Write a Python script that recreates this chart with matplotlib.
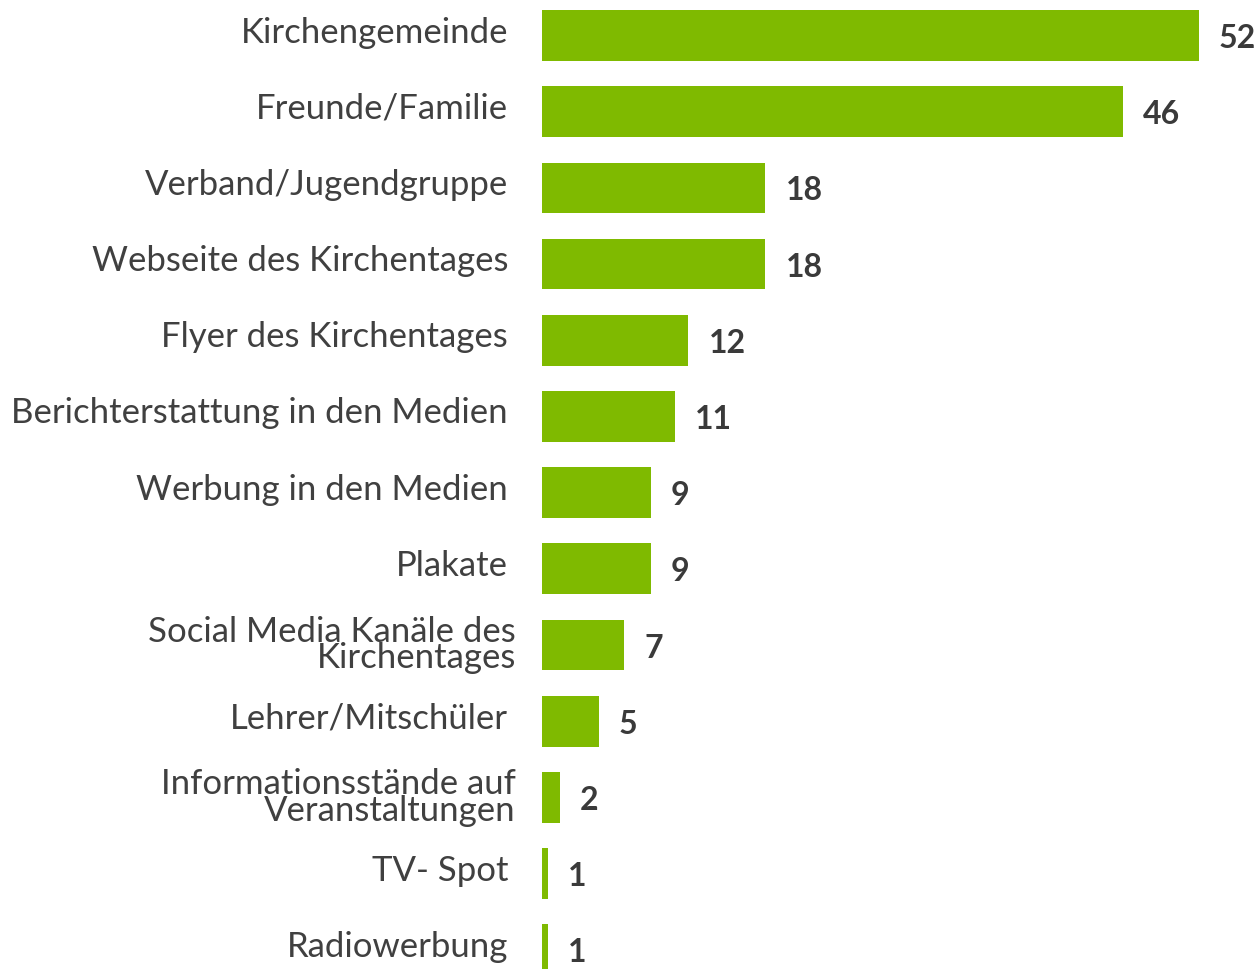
import matplotlib
matplotlib.use("Agg")
import matplotlib.pyplot as plt

categories = [
    "Kirchengemeinde", "Freunde/Familie", "Verband/Jugendgruppe",
    "Webseite des Kirchentages", "Flyer des Kirchentages",
    "Berichterstattung in den Medien", "Werbung in den Medien", "Plakate",
    "Social Media Kanäle des\nKirchentages", "Lehrer/Mitschüler",
    "Informationsstände auf\nVeranstaltungen", "TV- Spot", "Radiowerbung",
]
values = [52, 46, 17.7, 17.7, 11.6, 10.5, 8.6, 8.6, 6.5, 4.5, 1.4, 0.45, 0.45]
value_labels = ["52", "46", "18", "18", "12", "11", "9", "9", "7", "5", "2", "1", "1"]

W, H = 1260, 970
fig = plt.figure(figsize=(W / 100, H / 100), dpi=100)
ax_left = 542 / W
ax_width = 707 / W
ax = fig.add_axes([ax_left, 0, ax_width, 1])

ys = list(range(len(categories)))
ax.barh(ys, values, height=0.665, color="#7FBA00", edgecolor="none")
ax.set_xlim(0, 56)
ax.set_ylim(12.253, -0.48)
ax.axis("off")

font = "Lato"
for y, cat, v, lab in zip(ys, categories, values, value_labels):
    if "\n" in cat:
        ax.annotate(cat, xy=(0, y), xycoords=("axes fraction", "data"),
                    xytext=(-26, 1), textcoords="offset pixels",
                    ha="right", va="center", fontsize=25, family=font,
                    color="#404040", linespacing=0.78, annotation_clip=False)
    else:
        ax.annotate(cat, xy=(0, y), xycoords=("axes fraction", "data"),
                    xytext=(-34, 4), textcoords="offset pixels",
                    ha="right", va="center", fontsize=25, family=font,
                    color="#404040", annotation_clip=False)
    ax.annotate(lab, xy=(v, y), xycoords="data",
                xytext=(20, -2), textcoords="offset pixels",
                ha="left", va="center", fontsize=23, family=font,
                fontweight="bold", color="#3A3A3A", annotation_clip=False)

fig.savefig("out.png", dpi=100)
